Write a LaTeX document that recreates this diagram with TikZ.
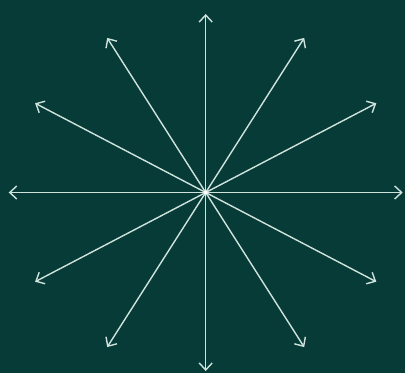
\documentclass[tikz,border=0pt]{standalone}
\usetikzlibrary{arrows.meta,calc}
\definecolor{bg}{HTML}{063B38}
\definecolor{ray}{HTML}{CFE3DC}
\tikzset{
  raystyle/.style={draw=ray, line width=1.4pt, -{Straight Barb[length=7pt,width=13pt,line width=1.4pt]}},
}
\begin{document}
\begin{tikzpicture}[x=1pt,y=1pt]
\fill[bg] (0,0) rectangle (405,373);
\useasboundingbox (0,0) rectangle (405,373);
\coordinate (c) at (205.7,180.5);
\foreach \a in {0,30,...,330}{
  \coordinate (e\a) at ($(c)+({197*cos(\a)},{178.5*sin(\a)})$);
}
\foreach \a in {0,30,...,330}{
  \draw[raystyle] (c) -- (e\a);
}
\fill[white] (c) circle (2pt);
\end{tikzpicture}
\end{document}
